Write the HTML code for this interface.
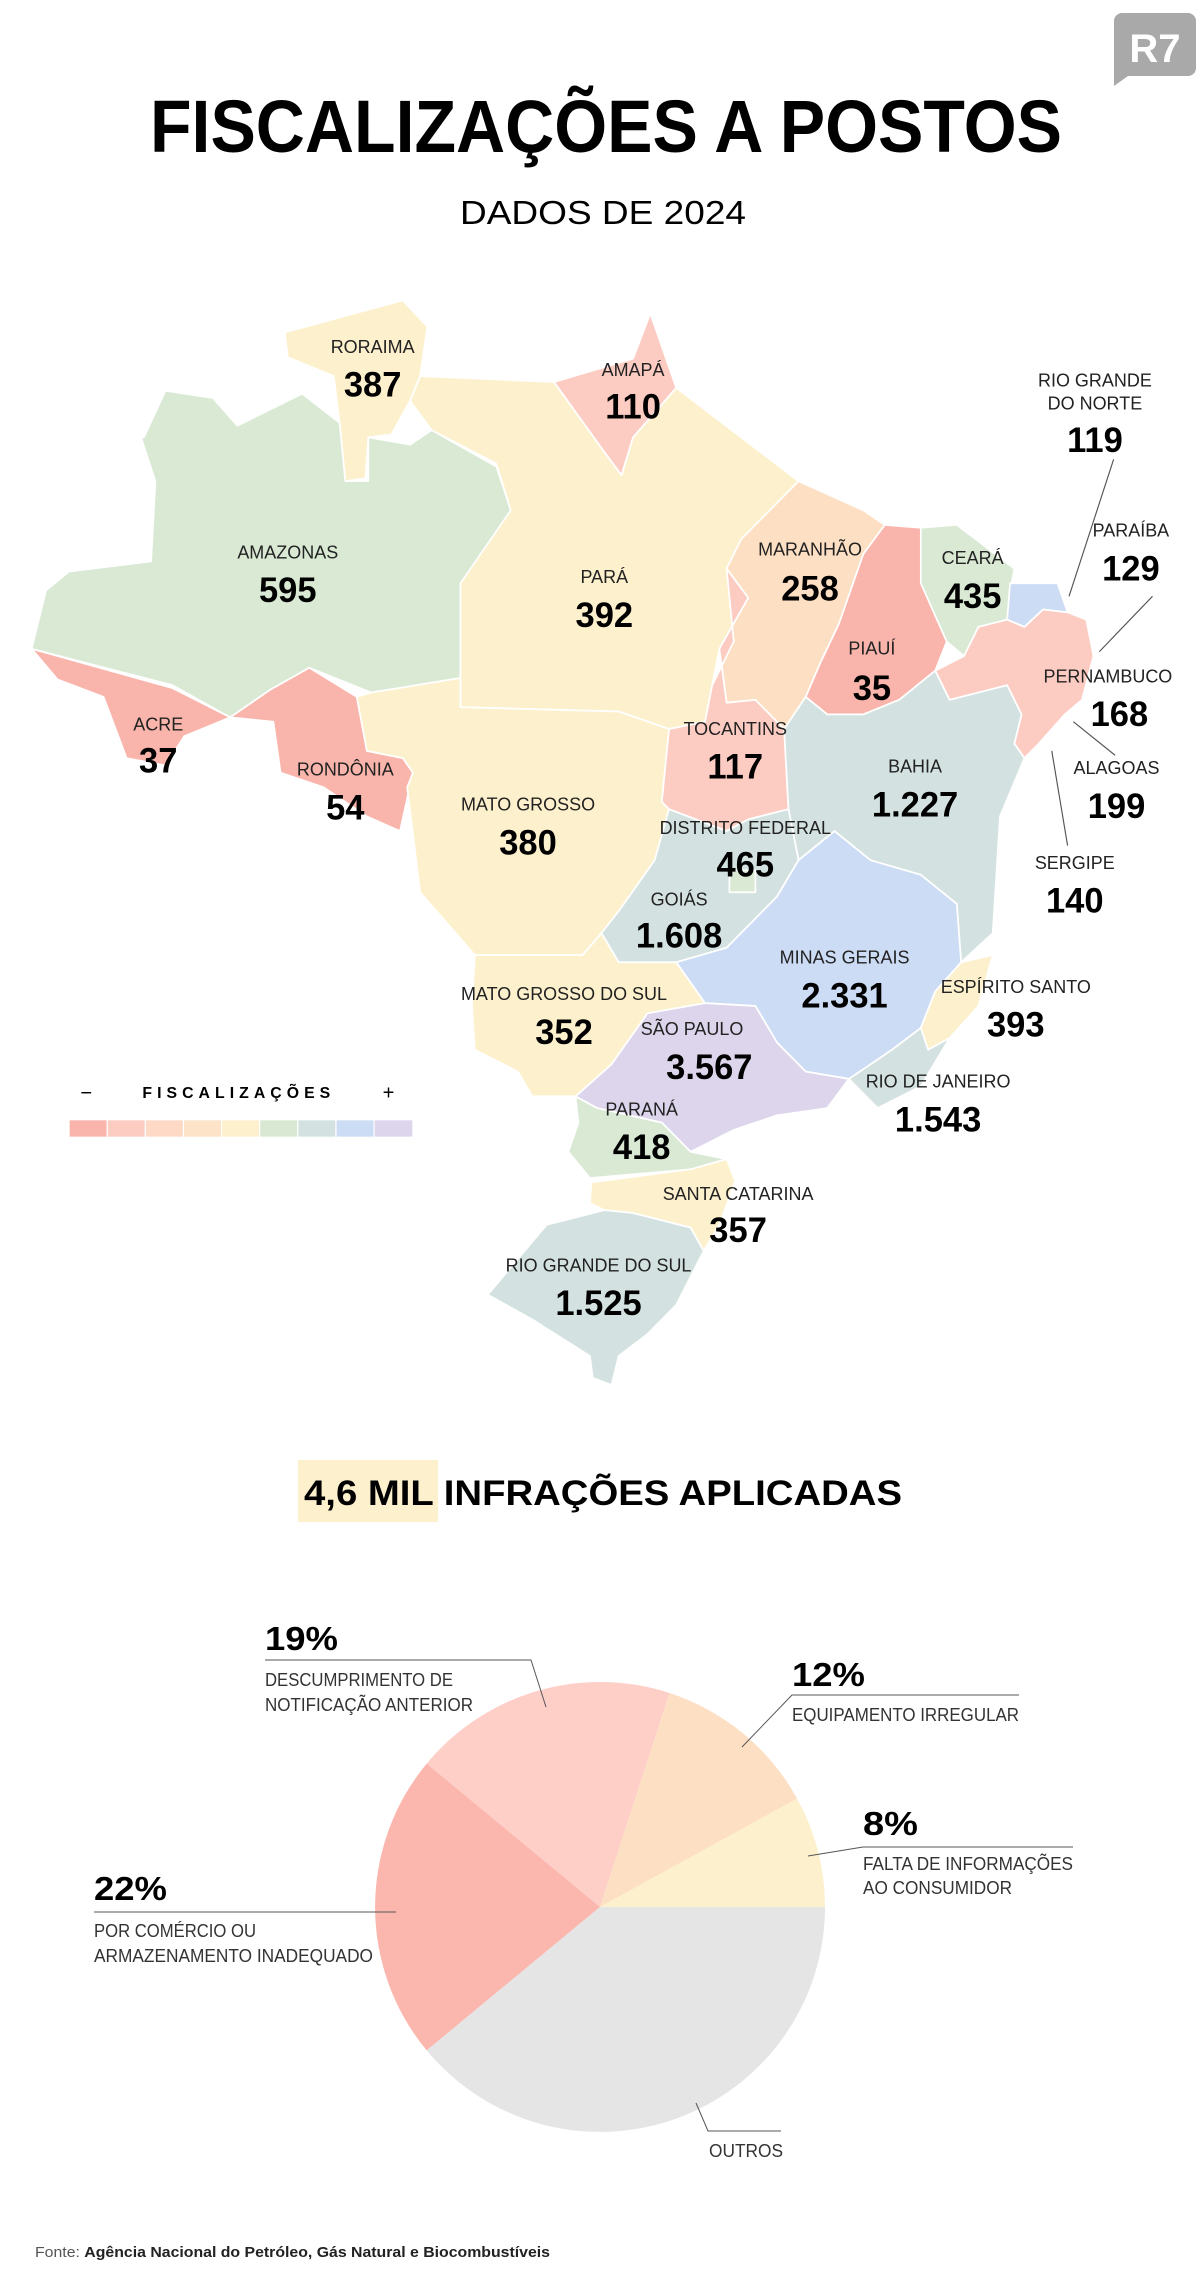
<!DOCTYPE html>
<html><head><meta charset="utf-8"><style>
html,body{margin:0;padding:0;background:#fff}
svg{display:block}
text{font-family:"Liberation Sans",sans-serif}
.n{font-size:12.5px;fill:#222;text-anchor:middle}
.v{font-size:24px;font-weight:bold;fill:#000;text-anchor:middle}
.l{font-size:18px;fill:#333}
.p{font-size:33px;font-weight:bold;fill:#000}
</style></head><body>
<svg width="1200" height="2286" viewBox="0 0 1200 2286" xmlns="http://www.w3.org/2000/svg">
<rect width="1200" height="2286" fill="#fff"/>
<!-- logo -->
<path d="M1122 13 H1188 a8 8 0 0 1 8 8 V68 a8 8 0 0 1 -8 8 H1128 L1114 86 V21 a8 8 0 0 1 8 -8Z" fill="#a9a9a9"/>
<text x="1155" y="62" font-size="40" font-weight="bold" fill="#fff" text-anchor="middle">R7</text>
<text x="606" y="152" font-size="74" font-weight="bold" text-anchor="middle" textLength="912" lengthAdjust="spacingAndGlyphs">FISCALIZAÇÕES A POSTOS</text>
<text x="603" y="224" font-size="33" text-anchor="middle" textLength="286" lengthAdjust="spacingAndGlyphs">DADOS DE 2024</text>

<g transform="scale(1.4388,1.458)">
<g stroke="#fff" stroke-width="1.2" stroke-linejoin="round">
<polygon fill="#fdf0cc" points="198,228 280,206 297,224 292,258 285,275 272,298 256,300 254,328 240,330 236,290 232,258 200,245"/>
<polygon fill="#d9e9d4" points="100,300 115,268 148,273 165,292 210,270 236,290 240,330 256,330 256,300 285,305 300,295 345,320 355,350 322,400 320,465 258,475 215,458 188,473 160,492 120,470 22,445 32,405 48,392 105,385 108,330 98,300"/>
<polygon fill="#fccbc2" points="385,262 440,246 452,215 470,266 440,300 432,326 420,310"/>
<polygon fill="#fdf0cc" points="292,258 385,262 420,310 432,326 440,300 470,266 555,330 515,370 505,390 520,410 500,445 495,470 490,495 465,500 430,488 320,485 320,400 355,350 345,318 300,295 285,275"/>
<polygon fill="#f9b5ab" points="22,445 120,472 160,492 128,505 115,525 88,520 72,478 40,466"/>
<polygon fill="#f9b5ab" points="160,492 188,473 215,458 248,478 255,515 280,520 287,530 278,570 255,560 225,540 195,530 190,495"/>
<polygon fill="#fdf0cc" points="258,475 320,465 320,485 430,488 465,500 460,550 465,555 455,590 430,625 418,640 405,655 330,655 292,612 283,540 287,530 280,520 255,515 248,478"/>
<polygon fill="#fde0c4" points="555,330 600,350 615,360 583,428 570,455 560,478 545,500 525,480 505,482 500,445 520,410 505,390 515,370"/>
<polygon fill="#f9b5ab" points="615,360 640,362 640,400 658,440 650,460 625,480 600,490 575,490 560,478 570,455 583,428 600,380"/>
<polygon fill="#fccbc2" points="505,390 520,410 500,445 505,482 525,480 545,500 548,555 520,562 505,570 465,555 460,550 465,500 490,495 495,470 510,440"/>
<polygon fill="#d9e9d4" points="640,362 665,360 705,390 702,405 700,425 680,430 670,450 658,440 640,400"/>
<polygon fill="#cddcf5" points="702,400 735,400 742,420 725,418 712,430 700,425"/>
<polygon fill="#fccbc2" points="700,425 712,430 725,418 742,420 755,425 760,450 752,480 740,490 722,510 712,520 705,510 710,490 700,470 680,475 660,480 650,460 670,450 680,430"/>
<polygon fill="#d3e2e0" points="545,500 560,478 575,490 600,490 625,480 650,460 660,480 680,475 700,470 710,490 705,510 712,520 695,560 690,640 668,660 665,620 640,600 605,590 580,570 555,590 548,555"/>
<polygon fill="#d3e2e0" points="465,555 505,570 520,562 548,555 555,590 540,615 505,650 470,660 430,660 418,640 430,625 455,590"/>
<polygon fill="#cddcf5" points="505,650 540,615 555,590 580,570 605,590 640,600 665,620 668,660 650,680 640,705 620,720 590,740 560,735 540,715 525,690 490,688 470,660"/>
<polygon fill="#d9e9d4" points="507,597 525,597 525,612 507,612"/>
<polygon fill="#fdf0cc" points="650,680 668,660 690,655 680,690 660,712 645,720 640,705"/>
<polygon fill="#d3e2e0" points="620,720 640,705 645,720 660,712 640,745 610,760 590,740"/>
<polygon fill="#fdf0cc" points="330,655 405,655 418,640 430,660 470,660 490,688 450,695 425,730 400,752 370,752 360,735 330,720 328,690"/>
<polygon fill="#dcd5eb" points="425,730 450,695 490,688 525,690 540,715 560,735 590,740 575,760 540,765 510,775 480,790 460,770 415,760 400,752"/>
<polygon fill="#d9e9d4" points="400,752 415,760 460,770 480,790 505,795 480,802 410,808 395,790 402,770"/>
<polygon fill="#fdf0cc" points="411,811 480,802 505,795 511,810 500,840 489,858 480,842 440,832 420,830 410,825"/>
<polygon fill="#d3e2e0" points="339,888 380,840 420,830 440,832 480,842 489,858 470,895 450,915 430,930 425,950 412,945 410,930 370,905"/>
</g>
<g stroke="#555" stroke-width="0.8" fill="none">
<line x1="774" y1="315" x2="743" y2="409"/>
<line x1="801" y1="409" x2="764" y2="447"/>
<line x1="775" y1="518" x2="746" y2="495"/>
<line x1="742" y1="580" x2="731" y2="515"/>
</g>
<text class="n" x="259" y="242">RORAIMA</text><text class="v" x="259" y="272">387</text>
<text class="n" x="440" y="258">AMAPÁ</text><text class="v" x="440" y="287">110</text>
<text class="n" x="761" y="265">RIO GRANDE</text><text class="n" x="761" y="281">DO NORTE</text><text class="v" x="761" y="310">119</text>
<text class="n" x="200" y="383">AMAZONAS</text><text class="v" x="200" y="413">595</text>
<text class="n" x="420" y="400">PARÁ</text><text class="v" x="420" y="430">392</text>
<text class="n" x="563" y="381">MARANHÃO</text><text class="v" x="563" y="412">258</text>
<text class="n" x="676" y="387">CEARÁ</text><text class="v" x="676" y="417">435</text>
<text class="n" x="786" y="368">PARAÍBA</text><text class="v" x="786" y="398">129</text>
<text class="n" x="606" y="449">PIAUÍ</text><text class="v" x="606" y="480">35</text>
<text class="n" x="770" y="468">PERNAMBUCO</text><text class="v" x="778" y="498">168</text>
<text class="n" x="110" y="501">ACRE</text><text class="v" x="110" y="530">37</text>
<text class="n" x="240" y="532">RONDÔNIA</text><text class="v" x="240" y="562">54</text>
<text class="n" x="511" y="504">TOCANTINS</text><text class="v" x="511" y="534">117</text>
<text class="n" x="636" y="530">BAHIA</text><text class="v" x="636" y="560">1.227</text>
<text class="n" x="776" y="531">ALAGOAS</text><text class="v" x="776" y="561">199</text>
<text class="n" x="367" y="556">MATO GROSSO</text><text class="v" x="367" y="586">380</text>
<text class="n" x="518" y="572">DISTRITO FEDERAL</text><text class="v" x="518" y="601">465</text>
<text class="n" x="747" y="596">SERGIPE</text><text class="v" x="747" y="626">140</text>
<text class="n" x="472" y="621">GOIÁS</text><text class="v" x="472" y="650">1.608</text>
<text class="n" x="587" y="661">MINAS GERAIS</text><text class="v" x="587" y="691">2.331</text>
<text class="n" x="706" y="681">ESPÍRITO SANTO</text><text class="v" x="706" y="711">393</text>
<text class="n" x="392" y="686">MATO GROSSO DO SUL</text><text class="v" x="392" y="716">352</text>
<text class="n" x="481" y="710">SÃO PAULO</text><text class="v" x="493" y="740">3.567</text>
<text class="n" x="652" y="746">RIO DE JANEIRO</text><text class="v" x="652" y="776">1.543</text>
<text class="n" x="446" y="765">PARANÁ</text><text class="v" x="446" y="795">418</text>
<text class="n" x="513" y="823">SANTA CATARINA</text><text class="v" x="513" y="852">357</text>
<text class="n" x="416" y="872">RIO GRANDE DO SUL</text><text class="v" x="416" y="902">1.525</text>
<!-- legend -->
<text x="60" y="754" font-size="14" text-anchor="middle">−</text>
<text x="166" y="753" font-size="11" font-weight="bold" letter-spacing="3.5" text-anchor="middle">FISCALIZAÇÕES</text>
<text x="270" y="754" font-size="14" text-anchor="middle">+</text>
<g stroke="#fff" stroke-width="0.8">
<rect x="48" y="768" width="26.5" height="12" fill="#f9b5ab"/>
<rect x="74.5" y="768" width="26.5" height="12" fill="#fccbc2"/>
<rect x="101" y="768" width="26.5" height="12" fill="#fdd9c6"/>
<rect x="127.5" y="768" width="26.5" height="12" fill="#fde3c8"/>
<rect x="154" y="768" width="26.5" height="12" fill="#fdf0cc"/>
<rect x="180.5" y="768" width="26.5" height="12" fill="#d8e8d3"/>
<rect x="207" y="768" width="26.5" height="12" fill="#d3e2e0"/>
<rect x="233.5" y="768" width="26.5" height="12" fill="#cddcf5"/>
<rect x="260" y="768" width="27" height="12" fill="#dcd5eb"/>
</g>
</g>

<!-- infractions heading -->
<rect x="298" y="1460" width="140" height="62" fill="#fdf0cc"/>
<text x="304" y="1505" font-size="35" font-weight="bold" textLength="598" lengthAdjust="spacingAndGlyphs">4,6 MIL INFRAÇÕES APLICADAS</text>

<!-- pie: center 600,1907 r 225 -->
<path d="M600 1907 L825 1907 A225 225 0 0 0 797.1 1798.6 Z" fill="#fdf0cc"/>
<path d="M600 1907 L797.1 1798.6 A225 225 0 0 0 669.5 1693.0 Z" fill="#fde0c4"/>
<path d="M600 1907 L669.5 1693.0 A225 225 0 0 0 426.7 1763.6 Z" fill="#fdcfc7"/>
<path d="M600 1907 L426.7 1763.6 A225 225 0 0 0 426.7 2050.4 Z" fill="#fbb6ae"/>
<path d="M600 1907 L426.7 2050.4 A225 225 0 0 0 825 1907 Z" fill="#e5e5e5"/>

<g stroke="#555" stroke-width="1" fill="none">
<polyline points="265,1660 531,1660 546,1707"/>
<polyline points="1019,1695 792,1695 742,1747"/>
<polyline points="1073,1847 863,1847 808,1856"/>
<polyline points="94,1912 396,1912"/>
<polyline points="696,2103 708,2131 781,2131"/>
</g>
<text class="p" x="265" y="1650" textLength="73" lengthAdjust="spacingAndGlyphs">19%</text>
<text class="l" x="265" y="1686" textLength="188" lengthAdjust="spacingAndGlyphs">DESCUMPRIMENTO DE</text>
<text class="l" x="265" y="1711" textLength="208" lengthAdjust="spacingAndGlyphs">NOTIFICAÇÃO ANTERIOR</text>
<text class="p" x="792" y="1686" textLength="73" lengthAdjust="spacingAndGlyphs">12%</text>
<text class="l" x="792" y="1721" textLength="227" lengthAdjust="spacingAndGlyphs">EQUIPAMENTO IRREGULAR</text>
<text class="p" x="863" y="1835" textLength="55" lengthAdjust="spacingAndGlyphs">8%</text>
<text class="l" x="863" y="1870" textLength="210" lengthAdjust="spacingAndGlyphs">FALTA DE INFORMAÇÕES</text>
<text class="l" x="863" y="1894" textLength="149" lengthAdjust="spacingAndGlyphs">AO CONSUMIDOR</text>
<text class="p" x="94" y="1900" textLength="73" lengthAdjust="spacingAndGlyphs">22%</text>
<text class="l" x="94" y="1937" textLength="162" lengthAdjust="spacingAndGlyphs">POR COMÉRCIO OU</text>
<text class="l" x="94" y="1962" textLength="279" lengthAdjust="spacingAndGlyphs">ARMAZENAMENTO INADEQUADO</text>
<text class="l" x="709" y="2157" textLength="74" lengthAdjust="spacingAndGlyphs">OUTROS</text>

<text x="35" y="2257" font-size="15" fill="#222" textLength="515" lengthAdjust="spacingAndGlyphs"><tspan fill="#555">Fonte: </tspan><tspan font-weight="bold">Agência Nacional do Petróleo, Gás Natural e Biocombustíveis</tspan></text>
</svg>
</body></html>
